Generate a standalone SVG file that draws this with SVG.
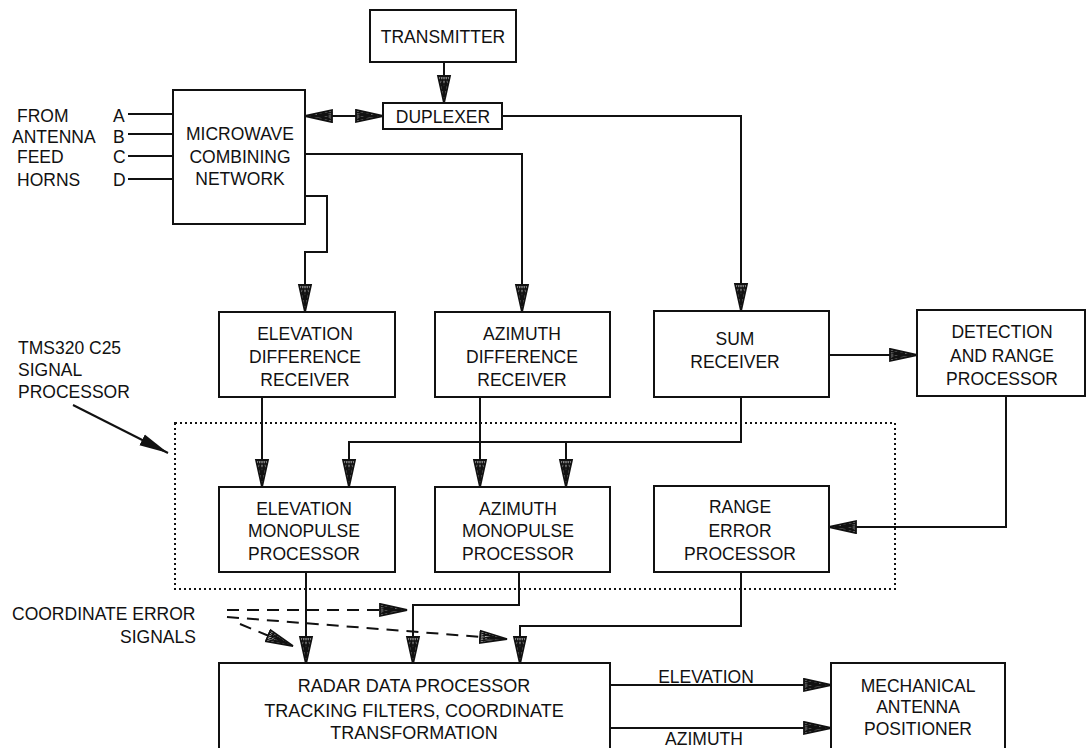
<svg xmlns="http://www.w3.org/2000/svg" width="1086" height="748" viewBox="0 0 1086 748">
<defs>
<style>
.box{fill:#fff;stroke:#111;stroke-width:2}
.t{font-family:"Liberation Sans",Arial,sans-serif;font-size:17.5px;fill:#111}
.c{text-anchor:middle}
.ln{fill:none;stroke:#111;stroke-width:2}
.dash{fill:none;stroke:#111;stroke-width:2;stroke-dasharray:12 8}
.dot{fill:none;stroke:#111;stroke-width:2;stroke-dasharray:2 3}
</style>
<marker id="fa" markerUnits="userSpaceOnUse" markerWidth="30" markerHeight="16" viewBox="0 0 30 16" refX="28" refY="8" orient="auto-start-reverse">
<path d="M1,2 L28,8 L1,14 Z" fill="#fff" stroke="#111" stroke-width="1.8"/>
<path d="M1,4 L16,6.6 M1,6 L22,7.4 M1,8 L25,8 M1,10 L22,8.6 M1,12 L16,9.4 M5,3 V13 M9,4 V12" stroke="#111" stroke-width="1.3" fill="none"/>
</marker>
<marker id="sa" markerUnits="userSpaceOnUse" markerWidth="30" markerHeight="14" viewBox="0 0 30 14" refX="29" refY="7" orient="auto">
<path d="M0,1 L29,7 L0,13 Z" fill="#111"/>
</marker>
</defs>
<rect width="1086" height="748" fill="#fff"/>

<g id="connectors">
<path class="ln" d="M444,62 V103" marker-end="url(#fa)"/>
<path class="ln" d="M305,116 H383" marker-start="url(#fa)" marker-end="url(#fa)"/>
<path class="ln" d="M502,116 H741 V311" marker-end="url(#fa)"/>
<path class="ln" d="M305,154 H522 V312" marker-end="url(#fa)"/>
<path class="ln" d="M305,196 H327 V252 H305 V312" marker-end="url(#fa)"/>
<path class="ln" d="M262,397 V487" marker-end="url(#fa)"/>
<path class="ln" d="M741,397 V442 H349 V487" marker-end="url(#fa)"/>
<path class="ln" d="M566,442 V487" marker-end="url(#fa)"/>
<path class="ln" d="M480,397 V487" marker-end="url(#fa)"/>
<path class="ln" d="M829,355 H917" marker-end="url(#fa)"/>
<path class="ln" d="M1006,396 V527 H829" marker-end="url(#fa)"/>
<path class="ln" d="M306,572 V664" marker-end="url(#fa)"/>
<path class="ln" d="M519,572 V605 H413 V664" marker-end="url(#fa)"/>
<path class="ln" d="M741,572 V626 H520 V664" marker-end="url(#fa)"/>
<path class="ln" d="M610,685 H831" marker-end="url(#fa)"/>
<path class="ln" d="M610,728 H831" marker-end="url(#fa)"/>
<path class="ln" d="M128,114 H173 M128,134 H173 M128,156 H173 M128,179 H173"/>
<path class="ln" d="M73,405 L168,453" marker-end="url(#sa)"/>
<path class="dash" d="M227,610 H407" marker-end="url(#fa)"/>
<path class="dash" d="M227,617 L507,639" marker-end="url(#fa)"/>
<path class="dash" d="M240,624 L293,646" marker-end="url(#fa)"/>
</g>

<g id="dsp-boundary">
<rect class="dot" x="175" y="423" width="720" height="166"/>
</g>

<g id="transmitter">
<rect class="box" x="370" y="10" width="146" height="52"/>
<text class="t c" x="443" y="43">TRANSMITTER</text>
</g>
<g id="duplexer">
<rect class="box" x="383" y="103" width="119" height="26"/>
<text class="t c" x="443" y="123">DUPLEXER</text>
</g>
<g id="microwave">
<rect class="box" x="173" y="90" width="132" height="134"/>
<text class="t c" x="240" y="140">MICROWAVE</text>
<text class="t c" x="240" y="163">COMBINING</text>
<text class="t c" x="240" y="185">NETWORK</text>
</g>
<g id="feed-labels">
<text class="t" x="17" y="122">FROM</text>
<text class="t" x="12" y="143">ANTENNA</text>
<text class="t" x="17" y="163">FEED</text>
<text class="t" x="17" y="186">HORNS</text>
<text class="t" x="113" y="122">A</text>
<text class="t" x="113" y="143">B</text>
<text class="t" x="113" y="163">C</text>
<text class="t" x="113" y="186">D</text>
</g>
<g id="elev-diff">
<rect class="box" x="219" y="312" width="176" height="85"/>
<text class="t c" x="305" y="340">ELEVATION</text>
<text class="t c" x="305" y="363">DIFFERENCE</text>
<text class="t c" x="305" y="386">RECEIVER</text>
</g>
<g id="az-diff">
<rect class="box" x="435" y="312" width="175" height="85"/>
<text class="t c" x="522" y="340">AZIMUTH</text>
<text class="t c" x="522" y="363">DIFFERENCE</text>
<text class="t c" x="522" y="386">RECEIVER</text>
</g>
<g id="sum">
<rect class="box" x="654" y="311" width="175" height="86"/>
<text class="t c" x="735" y="345">SUM</text>
<text class="t c" x="735" y="368">RECEIVER</text>
</g>
<g id="detection">
<rect class="box" x="917" y="310" width="168" height="86"/>
<text class="t c" x="1002" y="338">DETECTION</text>
<text class="t c" x="1002" y="362">AND RANGE</text>
<text class="t c" x="1002" y="385">PROCESSOR</text>
</g>
<g id="tms-label">
<text class="t" x="18" y="354">TMS320 C25</text>
<text class="t" x="18" y="376">SIGNAL</text>
<text class="t" x="18" y="398">PROCESSOR</text>
</g>
<g id="elev-mono">
<rect class="box" x="219" y="487" width="176" height="85"/>
<text class="t c" x="304" y="515">ELEVATION</text>
<text class="t c" x="304" y="537">MONOPULSE</text>
<text class="t c" x="304" y="560">PROCESSOR</text>
</g>
<g id="az-mono">
<rect class="box" x="435" y="487" width="175" height="85"/>
<text class="t c" x="518" y="515">AZIMUTH</text>
<text class="t c" x="518" y="537">MONOPULSE</text>
<text class="t c" x="518" y="560">PROCESSOR</text>
</g>
<g id="range-error">
<rect class="box" x="654" y="486" width="175" height="86"/>
<text class="t c" x="740" y="513">RANGE</text>
<text class="t c" x="740" y="537">ERROR</text>
<text class="t c" x="740" y="560">PROCESSOR</text>
</g>
<g id="coord-label">
<text class="t" x="12" y="620">COORDINATE ERROR</text>
<text class="t" x="120" y="643">SIGNALS</text>
</g>
<g id="radar-data">
<rect class="box" x="219" y="663" width="391" height="100"/>
<text class="t c" x="414" y="692" style="font-size:18px">RADAR DATA PROCESSOR</text>
<text class="t c" x="414" y="717" style="font-size:18px">TRACKING FILTERS, COORDINATE</text>
<text class="t c" x="414" y="739" style="font-size:18px">TRANSFORMATION</text>
</g>
<g id="edge-labels">
<text class="t c" x="706" y="683">ELEVATION</text>
<text class="t c" x="704" y="745">AZIMUTH</text>
</g>
<g id="positioner">
<rect class="box" x="831" y="663" width="174" height="100"/>
<text class="t c" x="918" y="692">MECHANICAL</text>
<text class="t c" x="918" y="713">ANTENNA</text>
<text class="t c" x="918" y="735">POSITIONER</text>
</g>
</svg>
